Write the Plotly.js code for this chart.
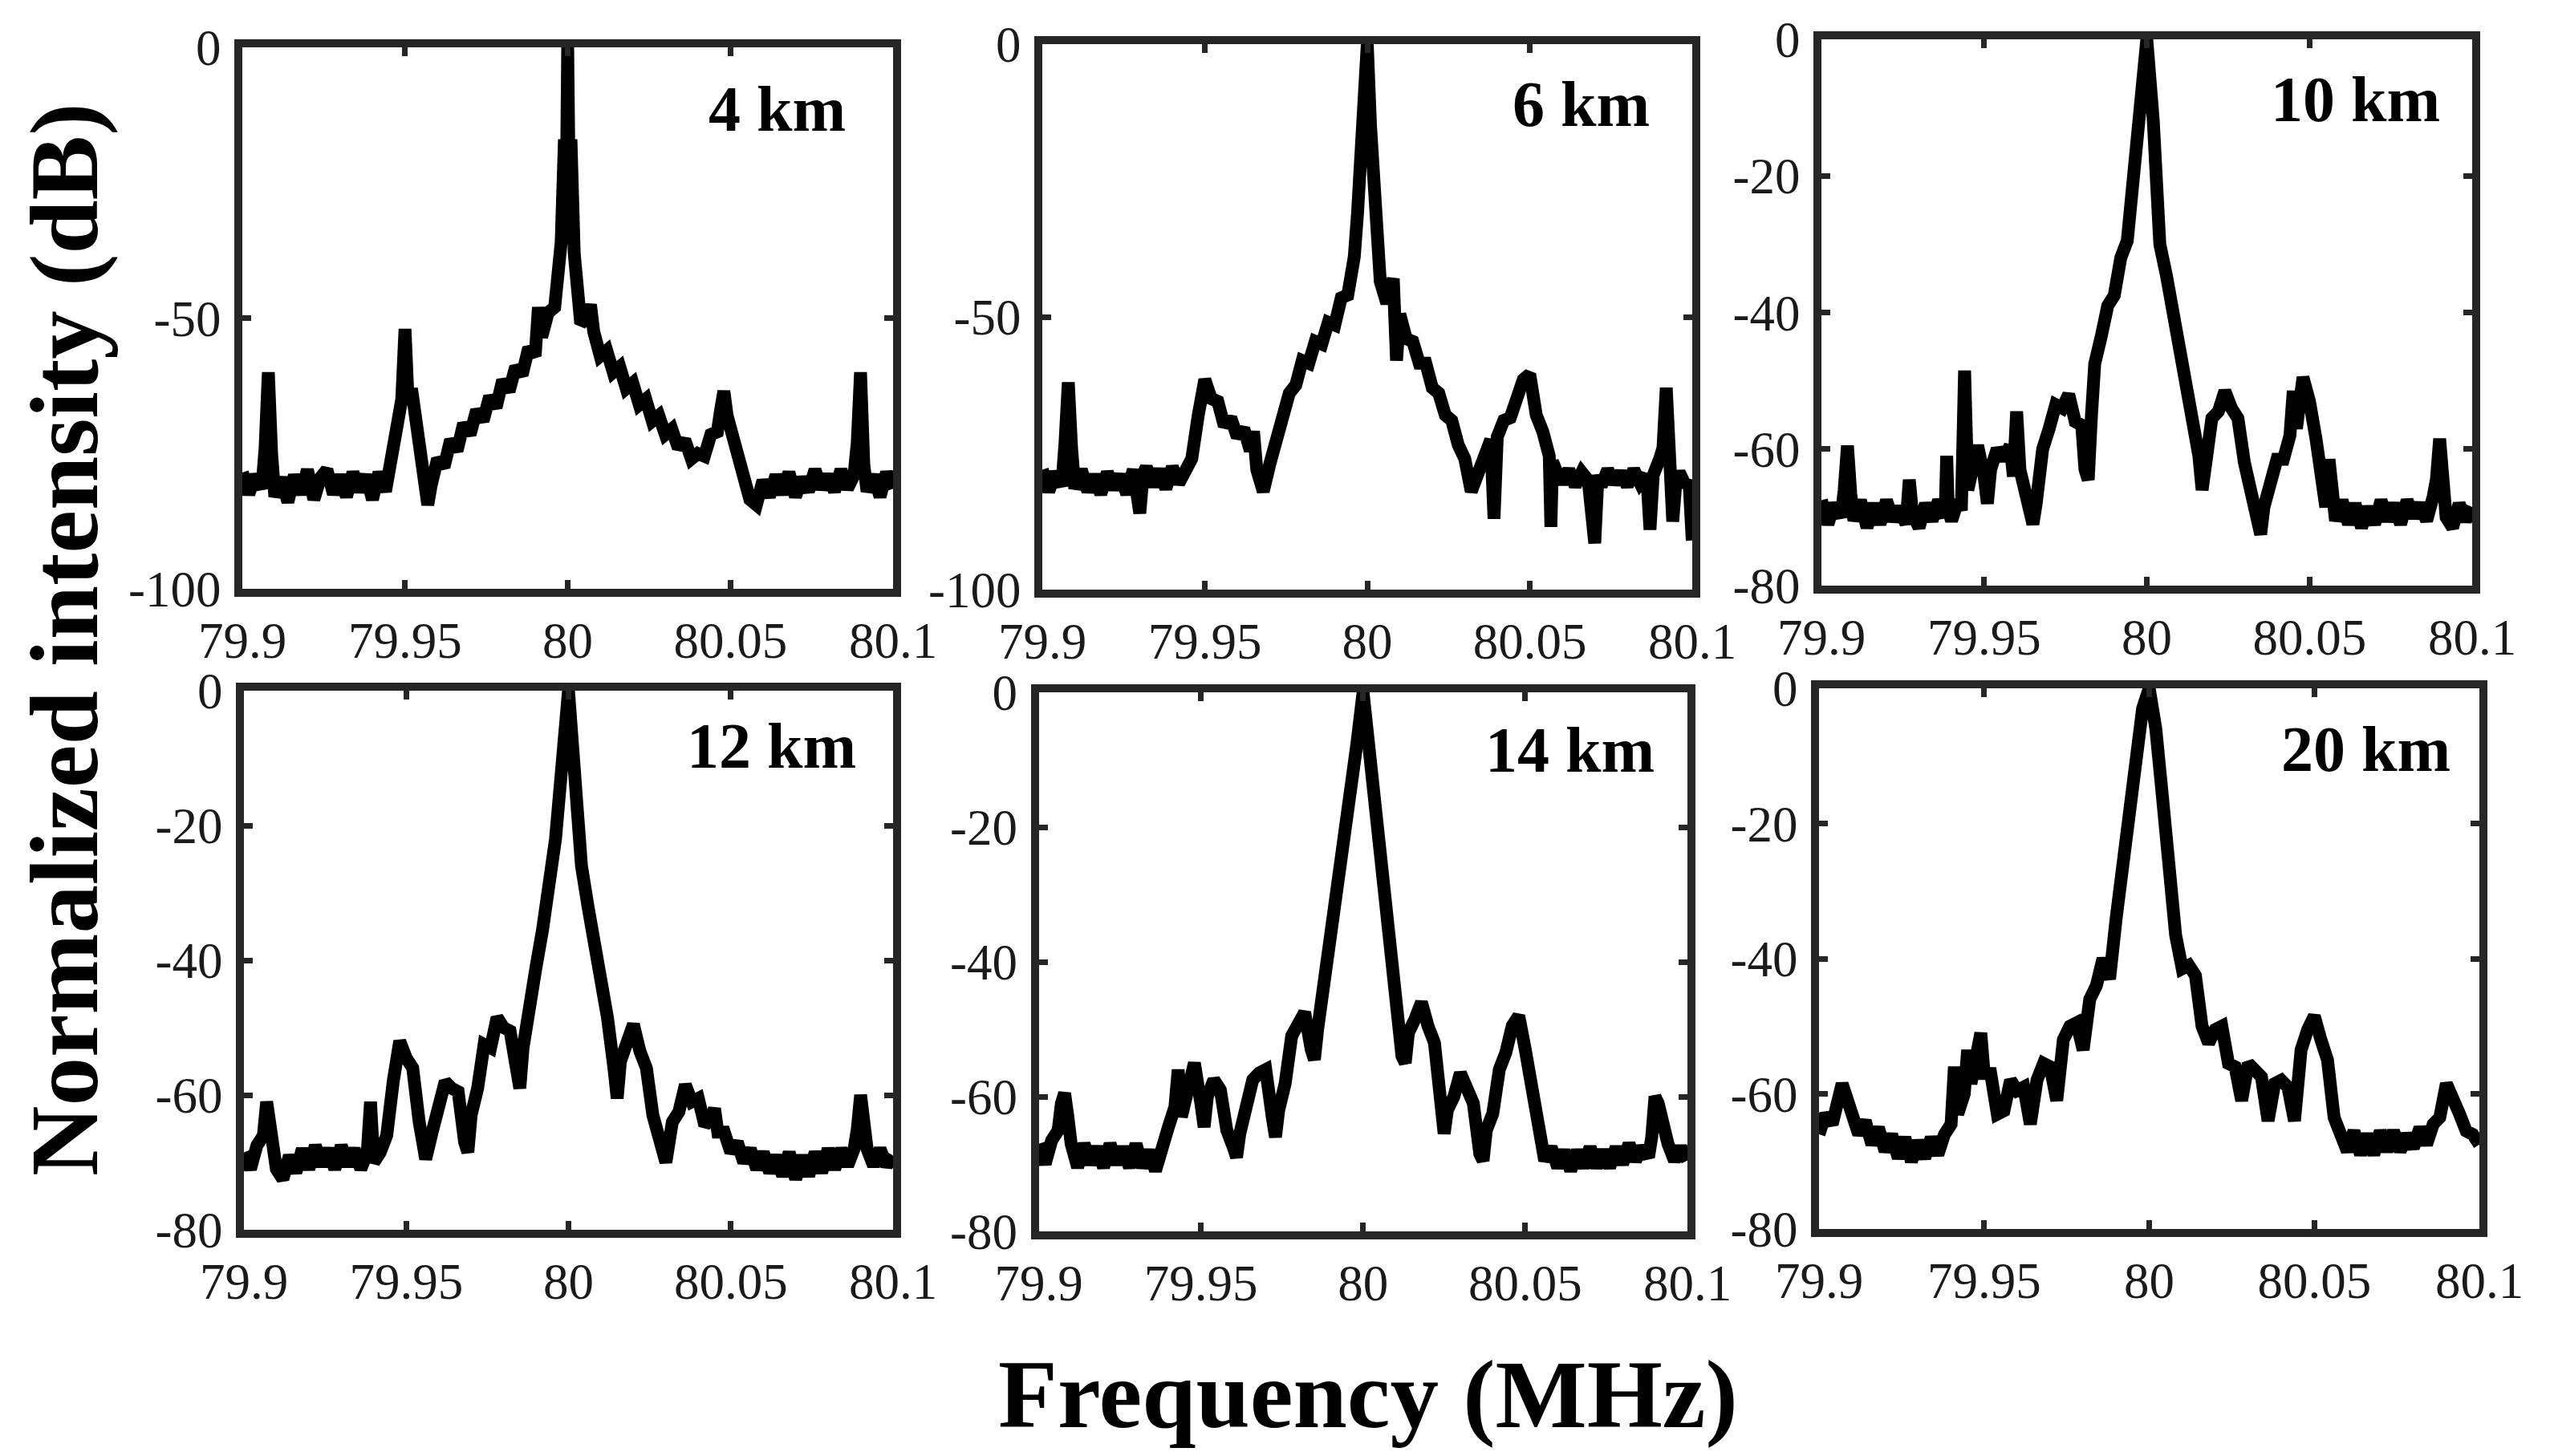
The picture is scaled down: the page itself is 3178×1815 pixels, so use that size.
<!DOCTYPE html>
<html>
<head>
<meta charset="utf-8">
<script src="https://cdn.plot.ly/plotly-3.0.1.min.js"></script>
<style>html,body{margin:0;padding:0;background:#fff;}#chart{width:3178px;height:1815px;}</style>
</head>
<body>
<div id="chart"></div>
<script>
// ---------------- DATA (frequency in MHz, normalized intensity in dB) ----------------
const panelLabels = ['4 km', '6 km', '10 km', '12 km', '14 km', '20 km'];
const freqTicks = [79.9, 79.95, 80, 80.05, 80.1];
const freqTickText = ['79.9', '79.95', '80', '80.05', '80.1'];
const dbTicks100 = [0, -50, -100];
const dbTicks80 = [0, -20, -40, -60, -80];
const dbMin = [-100, -100, -80, -80, -80, -80];

const spectrum4km = [[79.900,-78.5],[79.902,-82.5],[79.904,-79],[79.906,-81.5],[79.907,-74],[79.908,-60],[79.909,-75],[79.910,-83],[79.912,-79.5],[79.914,-84],[79.916,-79],[79.918,-82.5],[79.920,-78],[79.922,-83.5],[79.924,-79.5],[79.926,-78],[79.928,-82.5],[79.930,-79],[79.932,-83],[79.934,-78.5],[79.936,-82],[79.938,-79],[79.940,-83.5],[79.942,-78.5],[79.944,-82],[79.946,-76],[79.948,-69],[79.949,-65],[79.950,-52],[79.951,-66],[79.952,-63],[79.953,-67],[79.954,-71],[79.956,-79],[79.957,-84.5],[79.958,-81],[79.960,-76],[79.962,-77.5],[79.964,-72.5],[79.966,-74.5],[79.968,-69.5],[79.970,-71.5],[79.972,-67],[79.974,-69],[79.976,-64.5],[79.978,-66.5],[79.980,-61.5],[79.982,-63.5],[79.984,-59],[79.986,-60.5],[79.988,-55.5],[79.990,-57],[79.991,-48],[79.992,-53.5],[79.994,-49],[79.996,-48],[79.997,-42],[79.998,-36],[79.999,-17],[79.9995,-32],[80.000,0],[80.0005,-28],[80.001,-17],[80.002,-38],[80.003,-46],[80.004,-51],[80.006,-50],[80.007,-47.5],[80.008,-52.5],[80.010,-57],[80.012,-56],[80.014,-60],[80.016,-59],[80.018,-63],[80.020,-62],[80.022,-66],[80.024,-65],[80.026,-69],[80.028,-68],[80.030,-71.5],[80.032,-70.5],[80.034,-74],[80.036,-72.5],[80.038,-76],[80.040,-75],[80.042,-75.5],[80.044,-71.5],[80.046,-71],[80.047,-67],[80.048,-63.5],[80.049,-68],[80.050,-70],[80.052,-76],[80.054,-80],[80.056,-83.5],[80.058,-84.5],[80.060,-80],[80.062,-83],[80.064,-79],[80.066,-82.5],[80.068,-78.5],[80.070,-83],[80.072,-79.5],[80.074,-82],[80.076,-78],[80.078,-81.5],[80.080,-79],[80.082,-82],[80.084,-78],[80.086,-81.5],[80.088,-79],[80.089,-73],[80.090,-60],[80.091,-77],[80.092,-82],[80.094,-79],[80.096,-83],[80.098,-78.5],[80.100,-81.5]];

const spectrum6km = [[79.900,-78],[79.902,-82],[79.904,-78.5],[79.906,-81],[79.907,-73],[79.908,-62],[79.909,-74],[79.910,-81.5],[79.912,-78],[79.914,-82],[79.916,-79],[79.918,-82.5],[79.920,-78.5],[79.922,-81.5],[79.924,-79],[79.926,-82.5],[79.928,-78],[79.930,-86],[79.931,-79],[79.932,-77.5],[79.934,-81],[79.936,-78],[79.938,-81.5],[79.940,-77.5],[79.942,-80.5],[79.944,-78],[79.946,-76],[79.948,-68],[79.950,-61.5],[79.952,-65],[79.954,-65.5],[79.956,-70],[79.958,-68.5],[79.960,-72],[79.962,-70.5],[79.964,-74.5],[79.965,-71],[79.966,-78],[79.968,-82],[79.970,-77],[79.972,-72.5],[79.974,-69],[79.976,-64],[79.978,-62.5],[79.980,-58],[79.982,-58.5],[79.984,-54.5],[79.986,-55],[79.988,-51],[79.990,-51.5],[79.992,-46.5],[79.994,-46],[79.996,-39],[79.997,-31],[79.998,-20],[79.999,-14],[80.000,0],[80.001,-15],[80.002,-28],[80.003,-40],[80.004,-43.5],[80.006,-47.5],[80.007,-45],[80.008,-43],[80.009,-58],[80.010,-49.5],[80.012,-54],[80.014,-54.5],[80.016,-58.5],[80.018,-58.5],[80.020,-63],[80.022,-64],[80.024,-68],[80.026,-69],[80.028,-73.5],[80.030,-76],[80.032,-82],[80.034,-78.5],[80.036,-76],[80.038,-72.5],[80.039,-87],[80.040,-72],[80.042,-69],[80.044,-68.5],[80.046,-65],[80.048,-61.5],[80.050,-60.5],[80.052,-68],[80.054,-71],[80.056,-75.5],[80.0565,-88.5],[80.057,-76.5],[80.058,-78],[80.060,-80.5],[80.062,-78],[80.064,-81],[80.066,-78.5],[80.068,-80],[80.070,-91.5],[80.071,-79],[80.072,-81],[80.074,-78],[80.076,-80.5],[80.078,-78.5],[80.080,-81],[80.082,-78],[80.084,-80.5],[80.086,-79],[80.087,-89],[80.088,-79],[80.090,-76],[80.091,-74],[80.092,-63],[80.093,-78],[80.094,-87.5],[80.095,-80],[80.096,-78.5],[80.098,-81],[80.099,-80],[80.100,-91]];

const spectrum10km = [[79.900,-67.5],[79.902,-71],[79.904,-68],[79.906,-70],[79.907,-66],[79.908,-59.5],[79.909,-66.5],[79.910,-70.5],[79.912,-67.5],[79.914,-71.5],[79.916,-68],[79.918,-71],[79.920,-67.5],[79.922,-70.5],[79.924,-68.5],[79.926,-71],[79.927,-64.5],[79.928,-69.5],[79.930,-71.5],[79.932,-68],[79.934,-70.5],[79.936,-67.5],[79.938,-70],[79.9385,-61],[79.939,-69],[79.940,-70.5],[79.942,-67.5],[79.943,-69],[79.944,-48.5],[79.945,-66],[79.946,-63],[79.948,-59.5],[79.950,-64],[79.951,-68],[79.952,-63],[79.954,-60],[79.956,-61.5],[79.958,-59.5],[79.959,-64],[79.960,-54.5],[79.961,-63],[79.962,-65],[79.964,-69],[79.965,-71],[79.966,-68],[79.968,-60],[79.970,-57],[79.972,-53.5],[79.974,-54],[79.976,-52],[79.978,-56],[79.980,-56.5],[79.981,-63],[79.982,-64.5],[79.983,-55],[79.984,-47.5],[79.986,-43.5],[79.988,-39],[79.990,-37.5],[79.992,-32],[79.994,-29.5],[79.996,-20],[79.998,-10],[80.000,0],[80.002,-12],[80.003,-22],[80.004,-30],[80.006,-34.5],[80.008,-40],[80.010,-43.5],[80.012,-49.5],[80.014,-54.5],[80.016,-61],[80.017,-66],[80.018,-63],[80.020,-55.5],[80.022,-54.5],[80.024,-51.5],[80.026,-54],[80.028,-55.5],[80.030,-62],[80.032,-65.5],[80.034,-70.5],[80.035,-72.5],[80.036,-68.5],[80.038,-65],[80.040,-61.5],[80.042,-61.5],[80.044,-58],[80.045,-51.5],[80.046,-57],[80.048,-49.5],[80.050,-53],[80.052,-58.5],[80.054,-65],[80.055,-68.5],[80.056,-61.5],[80.057,-68.5],[80.058,-70.5],[80.060,-67.5],[80.062,-71],[80.064,-68],[80.066,-71.5],[80.068,-68.5],[80.070,-71],[80.072,-67.5],[80.074,-70.5],[80.076,-68],[80.078,-71],[80.080,-67.5],[80.082,-70],[80.084,-68],[80.086,-70.5],[80.088,-67],[80.089,-64.5],[80.090,-58.5],[80.091,-65],[80.092,-70],[80.094,-71.5],[80.096,-68],[80.098,-70.5],[80.100,-68.5]];

const spectrum12km = [[79.900,-68.5],[79.902,-71],[79.904,-67.5],[79.906,-66],[79.907,-61],[79.908,-63.5],[79.909,-68],[79.910,-71],[79.912,-72.5],[79.914,-69],[79.916,-71.5],[79.918,-68],[79.920,-71],[79.922,-67.5],[79.924,-70.5],[79.926,-68],[79.928,-71],[79.930,-67.5],[79.932,-70.5],[79.934,-68],[79.936,-71],[79.938,-68.5],[79.939,-61],[79.940,-70],[79.942,-68.5],[79.944,-66],[79.946,-58],[79.948,-52],[79.950,-54.5],[79.952,-56],[79.954,-64],[79.956,-69.5],[79.958,-65.5],[79.960,-62.5],[79.962,-58],[79.964,-59],[79.966,-59.5],[79.968,-67],[79.969,-68.5],[79.970,-63],[79.972,-59],[79.974,-52.5],[79.976,-53],[79.978,-48.5],[79.980,-50],[79.982,-50.5],[79.984,-56],[79.985,-59],[79.986,-53],[79.988,-45.5],[79.990,-41],[79.992,-35.5],[79.994,-30],[79.996,-22],[79.998,-11],[80.000,0],[80.002,-13],[80.004,-26],[80.006,-32],[80.008,-37],[80.010,-42.5],[80.012,-48.5],[80.014,-56],[80.015,-60.5],[80.016,-55],[80.018,-52.5],[80.020,-49.5],[80.022,-53.5],[80.024,-56],[80.026,-63],[80.028,-66],[80.030,-70],[80.032,-64],[80.034,-62.5],[80.036,-58.5],[80.038,-61],[80.040,-60.5],[80.042,-64.5],[80.044,-63.5],[80.045,-62],[80.046,-65.5],[80.048,-65.5],[80.050,-68.5],[80.052,-67],[80.054,-70],[80.056,-68],[80.058,-71],[80.060,-68.5],[80.062,-71.5],[80.064,-69],[80.066,-72],[80.068,-68.5],[80.070,-72.5],[80.072,-69],[80.074,-72],[80.076,-68.5],[80.078,-71.5],[80.080,-68],[80.082,-71],[80.084,-68],[80.086,-70.5],[80.088,-68],[80.089,-65],[80.090,-60],[80.091,-64],[80.092,-68],[80.094,-70.5],[80.096,-68],[80.098,-70.5],[80.100,-69]];

const spectrum14km = [[79.900,-67],[79.902,-70],[79.904,-66.5],[79.906,-65],[79.907,-61],[79.908,-59.5],[79.909,-63],[79.910,-67],[79.912,-70.5],[79.914,-67],[79.916,-70],[79.918,-67.5],[79.920,-70.5],[79.922,-67],[79.924,-70],[79.926,-67.5],[79.928,-70.5],[79.930,-67],[79.932,-70.5],[79.934,-68],[79.936,-71],[79.938,-67],[79.940,-64.5],[79.942,-61.5],[79.943,-56],[79.944,-63],[79.946,-59.5],[79.948,-55],[79.950,-61],[79.951,-64.5],[79.952,-60],[79.954,-57.5],[79.956,-59],[79.958,-65],[79.960,-67.5],[79.961,-69],[79.962,-65.5],[79.964,-62],[79.966,-57.5],[79.968,-56.5],[79.970,-56],[79.972,-63],[79.973,-66],[79.974,-62],[79.976,-58],[79.978,-51],[79.980,-49],[79.982,-47.5],[79.984,-53],[79.985,-54.5],[79.986,-50],[79.988,-43.5],[79.990,-37],[79.992,-30],[79.994,-23],[79.996,-16],[79.998,-8],[80.000,0],[80.002,-9],[80.004,-20],[80.006,-30],[80.008,-37],[80.010,-45],[80.012,-54],[80.013,-55],[80.014,-50.5],[80.016,-48.5],[80.018,-46],[80.020,-49.5],[80.022,-52],[80.024,-61],[80.025,-65.5],[80.026,-62],[80.028,-60],[80.030,-56.5],[80.032,-59],[80.034,-61],[80.036,-68.5],[80.037,-69.5],[80.038,-65],[80.040,-62.5],[80.042,-56],[80.044,-53.5],[80.046,-49.5],[80.048,-48],[80.050,-53],[80.052,-58.5],[80.054,-66.5],[80.056,-69.5],[80.058,-67.5],[80.060,-70.5],[80.062,-68],[80.064,-71],[80.066,-68],[80.068,-70.5],[80.070,-67.5],[80.072,-70.5],[80.074,-68],[80.076,-70.5],[80.078,-67.5],[80.080,-70],[80.082,-67],[80.084,-69.5],[80.086,-67.5],[80.088,-69],[80.089,-66],[80.090,-60],[80.091,-61],[80.092,-64],[80.094,-67],[80.096,-69.5],[80.098,-67.5],[80.100,-69.5]];

const spectrum20km = [[79.900,-66],[79.902,-63],[79.904,-64.5],[79.906,-60.5],[79.907,-58.5],[79.908,-60],[79.910,-62.5],[79.912,-66],[79.914,-64],[79.916,-67.5],[79.918,-65],[79.920,-68.5],[79.922,-66],[79.924,-69.5],[79.926,-66.5],[79.928,-70],[79.930,-67],[79.932,-69.5],[79.934,-66.5],[79.936,-69],[79.938,-66],[79.940,-64.5],[79.941,-56],[79.942,-63],[79.944,-60],[79.945,-53.5],[79.946,-58.5],[79.948,-54.5],[79.949,-51],[79.950,-57],[79.952,-57],[79.954,-63],[79.956,-62.5],[79.958,-58],[79.960,-59.5],[79.962,-59],[79.964,-64.5],[79.966,-58],[79.968,-55.5],[79.970,-56],[79.972,-61],[79.974,-52],[79.976,-50],[79.978,-49.5],[79.980,-53.5],[79.982,-46],[79.984,-44],[79.986,-40],[79.988,-43],[79.990,-34],[79.992,-27],[79.994,-17],[79.996,-12],[79.998,-3],[80.000,0],[80.002,-6],[80.004,-16],[80.006,-27],[80.008,-36.5],[80.010,-41.5],[80.012,-41],[80.014,-42.5],[80.016,-50],[80.018,-52.5],[80.020,-50.5],[80.022,-50],[80.024,-55.5],[80.026,-56],[80.028,-61],[80.030,-55.5],[80.032,-56.5],[80.034,-57.5],[80.036,-64],[80.038,-58.5],[80.040,-58],[80.042,-59],[80.044,-64],[80.046,-53.5],[80.048,-50.5],[80.050,-48.5],[80.052,-52],[80.054,-55],[80.056,-63.5],[80.058,-65.5],[80.060,-68.5],[80.062,-65.5],[80.064,-69],[80.066,-66],[80.068,-69],[80.070,-65.5],[80.072,-68.5],[80.074,-65.5],[80.076,-68.5],[80.078,-66],[80.080,-68],[80.082,-65],[80.084,-67.5],[80.086,-64.5],[80.088,-63.5],[80.090,-58.5],[80.092,-61.5],[80.094,-63],[80.096,-65.5],[80.098,-66],[80.100,-67.5]];

const spectra = [spectrum4km, spectrum6km, spectrum10km, spectrum12km, spectrum14km, spectrum20km];

// ---------------- STYLE / LAYOUT ----------------
const W = 3178, H = 1815;
const frameW = 10;
// frame-line centres in pixels: [left, right, top, bottom]
const boxes = [
  [297, 1118, 54, 739],
  [1294, 2114, 50, 740],
  [2265, 3086, 44, 735],
  [299, 1118, 856, 1538],
  [1289.5, 2108, 858, 1540],
  [2262, 3095, 853, 1537]
];
// panel label anchor (right edge px, middle y px)
const labelPos = [[1056, 136], [2058, 130], [3043, 124], [1069, 930], [2064, 935], [3056, 934]];

const serif = 'Liberation Serif, Times New Roman, serif';
const frameColor = '#262626';
const traces = [];
const layout = {
  width: W, height: H,
  margin: {l: 0, r: 0, t: 0, b: 0, pad: 0},
  paper_bgcolor: '#ffffff', plot_bgcolor: '#ffffff',
  showlegend: false,
  annotations: []
};

for (let i = 0; i < 6; i++) {
  const n = i === 0 ? '' : String(i + 1);
  const b = boxes[i];
  const h = frameW / 2;
  traces.push({
    type: 'scatter', mode: 'lines',
    x: spectra[i].map(p => p[0]), y: spectra[i].map(p => p[1]),
    xaxis: 'x' + n, yaxis: 'y' + n,
    line: {color: '#000000', width: 16},
    hoverinfo: 'skip'
  });
  layout['xaxis' + n] = {
    domain: [(b[0] + h) / W, (b[1] - h) / W],
    anchor: 'y' + n,
    range: [79.9, 80.1],
    tickmode: 'array', tickvals: freqTicks, ticktext: freqTickText,
    ticks: 'inside', ticklen: 11, tickwidth: 7, tickcolor: frameColor,
    showline: true, linewidth: frameW, linecolor: frameColor, mirror: 'ticks',
    showgrid: false, zeroline: false,
    tickfont: {family: serif, size: 63, color: '#1a1a1a'},
    ticklabelstandoff: 0
  };
  const yt = dbMin[i] === -100 ? dbTicks100 : dbTicks80;
  layout['yaxis' + n] = {
    domain: [1 - (b[3] - h) / H, 1 - (b[2] + h) / H],
    anchor: 'x' + n,
    range: [dbMin[i], 0],
    tickmode: 'array', tickvals: yt, ticktext: yt.map(String),
    ticks: 'inside', ticklen: 11, tickwidth: 7, tickcolor: frameColor,
    showline: true, linewidth: frameW, linecolor: frameColor, mirror: 'ticks',
    showgrid: false, zeroline: false,
    tickfont: {family: serif, size: 63, color: '#1a1a1a'},
    ticklabelstandoff: 4
  };
  layout.annotations.push({
    xref: 'paper', yref: 'paper',
    x: labelPos[i][0] / W, y: 1 - labelPos[i][1] / H,
    xanchor: 'right', yanchor: 'middle',
    text: '<b>' + panelLabels[i] + '</b>', showarrow: false,
    font: {family: serif, size: 80, color: '#000000'}
  });
}

layout.annotations.push({
  xref: 'paper', yref: 'paper',
  x: 80 / W, y: 1 - 797 / H,
  xanchor: 'center', yanchor: 'middle', textangle: -90,
  text: '<b>Normalized intensity (dB)</b>', showarrow: false,
  font: {family: serif, size: 121, color: '#000000'}
});
layout.annotations.push({
  xref: 'paper', yref: 'paper',
  x: 1705 / W, y: 1 - 1738 / H,
  xanchor: 'center', yanchor: 'middle',
  text: '<b>Frequency (MHz)</b>', showarrow: false,
  font: {family: serif, size: 121, color: '#000000'}
});

Plotly.newPlot('chart', traces, layout, {staticPlot: true, displayModeBar: false});
</script>
</body>
</html>
